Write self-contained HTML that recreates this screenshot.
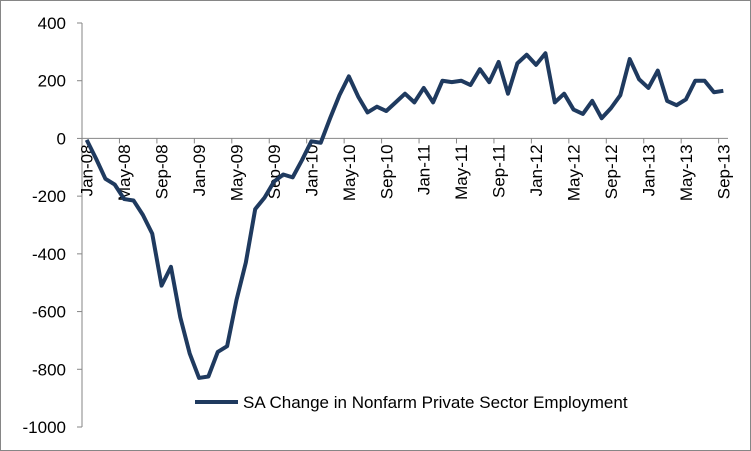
<!DOCTYPE html>
<html><head><meta charset="utf-8"><style>
html,body{margin:0;padding:0;background:#fff;}
svg{display:block;font-family:"Liberation Sans",sans-serif;}
</style></head><body>
<svg id="chart" width="751" height="451" viewBox="0 0 751 451">
<rect x="0.5" y="0.5" width="750" height="450" fill="#fff" stroke="#868686"/>
<g id="yaxis"></g>
<g id="xaxis"></g>
<g id="series"></g>
<g>
<line x1="195" y1="402" x2="238" y2="402" stroke="#1f3a5f" stroke-width="4"/>
<text x="243" y="408" font-size="17" fill="#000">SA Change in Nonfarm Private Sector Employment</text>
</g>
</svg>
<script>
const months = ["Jan","Feb","Mar","Apr","May","Jun","Jul","Aug","Sep","Oct","Nov","Dec"];
const startYear = 8;
const values = [-5,-70,-140,-160,-210,-215,-265,-330,-510,-445,-620,-745,
-830,-825,-740,-720,-560,-430,-245,-205,-150,-125,-135,-75,
-10,-15,70,150,215,145,90,110,95,125,155,125,
175,125,200,195,200,185,240,195,265,155,260,290,
255,295,125,155,100,85,130,70,105,150,275,205,
175,235,130,115,135,200,200,160,165];
const yTicks = [400,200,0,-200,-400,-600,-800,-1000];
const categories = values.map((v,i)=>{const m=i%12,y=startYear+Math.floor(i/12);return months[m]+"-"+String(y).padStart(2,"0");});
const NS="http://www.w3.org/2000/svg";
const plotLeft=82, plotRight=728, plotTop=23, plotBottom=427, yMin=-1000, yMax=400;
const bw=(plotRight-plotLeft)/categories.length;
function xs(i){return plotLeft+bw*(i+0.5);}
function ys(v){return plotBottom-(v-yMin)/(yMax-yMin)*(plotBottom-plotTop);}
function mk(tag,attrs,parent){const e=document.createElementNS(NS,tag);for(const k in attrs)e.setAttribute(k,attrs[k]);parent.appendChild(e);return e;}
const ya=document.getElementById("yaxis"), xa=document.getElementById("xaxis"), sg=document.getElementById("series");
const yl=mk("line",{x1:plotLeft,y1:plotTop,x2:plotLeft,y2:plotBottom,stroke:"#868686","stroke-width":1},ya);


yTicks.forEach(t=>{
 const l=mk("line",{x1:plotLeft-5,y1:ys(t),x2:plotLeft,y2:ys(t),stroke:"#868686"},ya);
 
 
 const tx=mk("text",{x:66,y:ys(t)+6,"text-anchor":"end","font-size":"17",fill:"#000"},ya);
 tx.textContent=t;
 
 
});
const y0=ys(0);
const xl=mk("line",{x1:plotLeft,y1:y0,x2:plotRight,y2:y0,stroke:"#868686"},xa);


categories.forEach((c,i)=>{
 if(i%4===0){
  const tk=mk("line",{x1:plotLeft+bw*i+bw*4,y1:y0,x2:plotLeft+bw*i+bw*4,y2:y0+5,stroke:"#868686"},xa);
  
  
  const x=xs(i)+6, y=y0+6;
  const tx=mk("text",{x:x,y:y,"text-anchor":"end","font-size":"17",fill:"#000",transform:`rotate(-90 ${x} ${y})`},xa);
  tx.textContent=c;
  
  
 }
});
const p=mk("polyline",{points:values.map((v,i)=>xs(i)+","+ys(v)).join(" "),fill:"none",stroke:"#1f3a5f","stroke-width":4,"stroke-linejoin":"round"},sg);


</script>
</body></html>
